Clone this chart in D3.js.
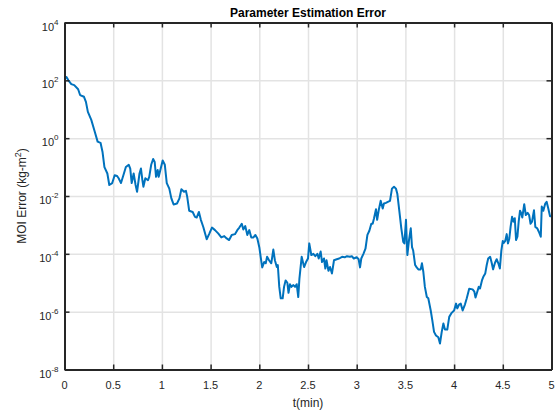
<!DOCTYPE html>
<html>
<head>
<meta charset="utf-8">
<script src="https://cdn.jsdelivr.net/npm/d3@7"></script>
<style>
  html, body { margin: 0; padding: 0; background: #fff; }
  svg { display: block; font-family: "Liberation Sans", Arial, Helvetica, sans-serif; }
</style>
</head>
<body>
<svg id="chart" width="559" height="415"></svg>
<script>
// Time samples (minutes)
const timeMin = [
  0.00, 0.02, 0.04, 0.07, 0.10, 0.14, 0.16, 0.20, 0.22, 0.24, 0.275, 0.31, 0.34, 0.37, 0.39,
  0.41, 0.44, 0.46, 0.49, 0.515, 0.54, 0.556, 0.58, 0.61, 0.63, 0.66, 0.675, 0.69, 0.71, 0.73,
  0.745, 0.77, 0.785, 0.80, 0.81, 0.83, 0.857, 0.87, 0.89, 0.91, 0.926, 0.94, 0.957, 0.967, 0.984,
  1.008, 1.03, 1.05, 1.076, 1.097, 1.12, 1.155, 1.18, 1.20, 1.227, 1.247,
  1.26, 1.28, 1.316, 1.34, 1.357, 1.38, 1.40, 1.425, 1.46, 1.487, 1.514, 1.545, 1.58, 1.61, 1.64,
  1.665, 1.69, 1.717, 1.75, 1.774, 1.795, 1.82, 1.836, 1.856, 1.877, 1.897, 1.918, 1.94, 1.96, 1.98,
  2.00, 2.014, 2.03, 2.05, 2.066, 2.08, 2.10, 2.123, 2.144, 2.16, 2.18, 2.19, 2.205, 2.22, 2.24,
  2.254, 2.27, 2.288, 2.30, 2.315, 2.33, 2.35, 2.367, 2.384, 2.40, 2.412, 2.435, 2.46, 2.48, 2.50,
  2.513, 2.534, 2.555, 2.575, 2.596, 2.61, 2.63, 2.644, 2.664, 2.678, 2.69, 2.71, 2.726, 2.746, 2.767,
  2.795, 2.82, 2.85, 2.877, 2.90, 2.93, 2.95, 2.97, 3.00, 3.02, 3.034, 3.047, 3.068, 3.09, 3.11,
  3.13, 3.15, 3.164, 3.178, 3.198, 3.21, 3.226, 3.246, 3.267, 3.28, 3.30, 3.32, 3.342, 3.362, 3.383,
  3.403, 3.417, 3.437, 3.458, 3.478, 3.49, 3.506, 3.52, 3.537, 3.555, 3.568, 3.58, 3.60, 3.616, 3.633,
  3.657, 3.67, 3.684, 3.70, 3.72, 3.735, 3.76, 3.776, 3.794, 3.814, 3.838, 3.855, 3.873, 3.89, 3.906,
  3.93, 3.95, 3.975, 4.00, 4.02, 4.033, 4.053, 4.068, 4.088, 4.112, 4.13, 4.155, 4.19, 4.208, 4.22,
  4.238, 4.253, 4.266, 4.286, 4.30, 4.32, 4.335, 4.35, 4.37, 4.387, 4.40, 4.42, 4.437, 4.454, 4.47,
  4.485, 4.50, 4.51, 4.525, 4.54, 4.553, 4.567, 4.58, 4.595, 4.61, 4.623, 4.636, 4.65, 4.663, 4.677,
  4.69, 4.70, 4.72, 4.736, 4.755, 4.77, 4.785, 4.80, 4.82, 4.834, 4.854, 4.87, 4.89, 4.90, 4.916,
  4.936, 4.95, 4.967, 4.985, 5.00
];

// Moment-of-inertia estimation error (kg·m²)
const moiError = [
  1.1e2, 1.3e2, 1.0e2, 7.4e1, 6.8e1, 4.9e1, 3.1e1, 2.7e1, 1.8e1, 8.1, 4.3, 1.7, 0.76, 0.69, 0.34,
  0.10, 0.060, 0.024, 0.028, 0.052, 0.049, 0.041, 0.028, 0.060, 0.10, 0.12, 0.089, 0.028, 0.060, 0.024,
  0.014, 0.060, 0.089, 0.035, 0.021, 0.041, 0.035, 0.046, 0.12, 0.19, 0.15, 0.046, 0.079, 0.046, 0.079,
  0.17, 0.12, 0.028, 0.018, 0.0083, 0.0051, 0.0055, 0.0083, 0.017, 0.014, 0.015,
  9.3e-3, 3.1e-3, 2.8e-3, 1.9e-3, 1.8e-3, 2.8e-3, 1.5e-3, 8.5e-4, 3.2e-4, 5.0e-4, 8.1e-4, 6.6e-4, 5.0e-4, 3.7e-4, 4.1e-4,
  3.4e-4, 3.0e-4, 4.5e-4, 4.8e-4, 6.6e-4, 8.1e-4, 1.1e-3, 6.9e-4, 9.1e-4, 4.5e-4, 6.6e-4, 3.7e-4, 3.7e-4, 4.5e-4, 3.4e-4,
  1.7e-4, 7.9e-5, 3.4e-5, 5.2e-5, 4.7e-5, 7.9e-5, 6.0e-5, 4.7e-5, 1.4e-4, 6.0e-5, 3.5e-5, 4.1e-5, 7.2e-6, 2.9e-6, 2.9e-6,
  7.2e-6, 1.2e-5, 1.0e-5, 4.5e-6, 8.9e-6, 7.2e-6, 8.3e-6, 7.2e-6, 8.9e-6, 3.2e-6, 1.4e-5, 7.9e-5, 3.5e-5, 5.2e-5, 6.9e-5,
  2.3e-4, 9.1e-5, 1.0e-4, 8.3e-5, 1.0e-4, 6.9e-5, 1.2e-4, 5.2e-5, 6.9e-5, 3.1e-5, 6.0e-5, 2.6e-5, 3.5e-5, 2.1e-5, 6.0e-5,
  6.5e-5, 6.9e-5, 7.9e-5, 7.6e-5, 8.3e-5, 7.9e-5, 8.3e-5, 6.9e-5, 7.6e-5, 6.5e-5, 3.4e-5, 6.9e-5, 9.8e-5, 1.5e-4, 4.5e-4,
  6.3e-4, 1.1e-3, 1.1e-3, 1.7e-3, 3.5e-3, 1.5e-3, 3.2e-3, 6.8e-3, 3.7e-3, 5.5e-3, 5.8e-3, 6.3e-3, 6.8e-3, 1.8e-2, 2.1e-2,
  1.8e-2, 1.2e-2, 3.2e-3, 7.6e-4, 2.6e-4, 2.3e-4, 1.5e-3, 9.1e-5, 3.0e-4, 7.6e-4, 1.7e-4, 1.3e-4, 4.1e-5, 3.4e-5, 2.9e-5,
  2.9e-5, 4.7e-5, 2.4e-5, 7.2e-6, 3.2e-6, 2.9e-6, 1.1e-6, 5.1e-7, 2.0e-7, 1.5e-7, 1.3e-7, 7.9e-8, 2.0e-7, 3.9e-7, 2.4e-7,
  2.4e-7, 6.6e-7, 9.1e-7, 1.1e-6, 1.9e-6, 1.3e-6, 1.8e-6, 1.9e-6, 1.1e-6, 1.8e-6, 2.9e-6, 6.2e-6, 5.9e-6, 4.9e-6, 3.1e-6,
  4.9e-6, 7.2e-6, 6.3e-6, 1.2e-5, 1.6e-5, 2.1e-5, 4.1e-5, 6.9e-5, 7.9e-5, 4.7e-5, 2.9e-5, 4.9e-5, 6.5e-5, 4.7e-5, 3.1e-5,
  1.3e-4, 2.8e-4, 2.4e-4, 2.8e-4, 4.8e-4, 2.3e-4, 3.4e-4, 8.5e-4, 1.9e-3, 1.3e-3, 1.7e-3, 3.0e-4, 3.9e-4, 1.3e-3, 3.1e-3,
  2.5e-3, 1.8e-3, 5.2e-3, 2.2e-3, 2.6e-3, 2.2e-3, 1.1e-3, 1.3e-3, 3.2e-3, 8.5e-4, 7.6e-4, 5.8e-4, 3.9e-4, 4.3e-3, 3.1e-3,
  5.5e-3, 6.3e-3, 3.7e-3, 2.0e-3, 2.0e-3
];

// Axis ticks
const xTicks = [0, 0.5, 1, 1.5, 2, 2.5, 3, 3.5, 4, 4.5, 5];
const xTickLabels = ["0", "0.5", "1", "1.5", "2", "2.5", "3", "3.5", "4", "4.5", "5"];
const yTicks = [1e-8, 1e-6, 1e-4, 1e-2, 1e0, 1e2, 1e4];
const yTickExponents = ["-8", "-6", "-4", "-2", "0", "2", "4"];

const plotLeft = 64.5, plotRight = 551.5, plotTop = 22.5, plotBottom = 369.5;
const axisColor = "#262626";

const svg = d3.select("#chart");

const x = d3.scaleLinear().domain([0, 5]).range([plotLeft, plotRight]);
const y = d3.scaleLog().domain([1e-8, 1e4]).range([plotBottom, plotTop]);

// Grid lines
const grid = svg.append("g");
grid.append("g")
  .attr("transform", `translate(0,${plotBottom})`)
  .call(d3.axisBottom(x).tickValues(xTicks).tickSize(-(plotBottom - plotTop)).tickFormat(""))
  .call(g => g.select(".domain").remove())
  .call(g => g.selectAll("line").attr("stroke", "#e3e3e3").attr("stroke-width", 1.5));
grid.append("g")
  .attr("transform", `translate(${plotLeft},0)`)
  .call(d3.axisLeft(y).tickValues(yTicks).tickSize(-(plotRight - plotLeft)).tickFormat(""))
  .call(g => g.select(".domain").remove())
  .call(g => g.selectAll("line").attr("stroke", "#e3e3e3").attr("stroke-width", 1.5));

// Data line
svg.append("defs").append("clipPath").attr("id", "plotClip")
  .append("rect").attr("x", plotLeft).attr("y", plotTop)
  .attr("width", plotRight - plotLeft).attr("height", plotBottom - plotTop);

const series = timeMin.map((t, i) => ({ t, v: moiError[i] }));
const line = d3.line().x(d => x(d.t)).y(d => y(d.v));
svg.append("path")
  .datum(series)
  .attr("clip-path", "url(#plotClip)")
  .attr("fill", "none")
  .attr("stroke", "#0072bd")
  .attr("stroke-width", 2)
  .attr("stroke-linejoin", "round")
  .attr("d", line);

// Box axes with inward ticks
function styleAxis(g) {
  g.select(".domain").attr("stroke", axisColor).attr("stroke-width", 2);
  g.selectAll(".tick line").attr("stroke", axisColor).attr("stroke-width", 1.5);
}
svg.append("g").attr("transform", `translate(0,${plotBottom})`)
  .call(d3.axisBottom(x).tickValues(xTicks).tickSizeInner(-5).tickSizeOuter(0).tickFormat(""))
  .call(styleAxis);
svg.append("g").attr("transform", `translate(0,${plotTop})`)
  .call(d3.axisTop(x).tickValues(xTicks).tickSizeInner(-5).tickSizeOuter(0).tickFormat(""))
  .call(styleAxis);
svg.append("g").attr("transform", `translate(${plotLeft},0)`)
  .call(d3.axisLeft(y).tickValues(yTicks).tickSizeInner(-5).tickSizeOuter(0).tickFormat(""))
  .call(styleAxis);
svg.append("g").attr("transform", `translate(${plotRight},0)`)
  .call(d3.axisRight(y).tickValues(yTicks).tickSizeInner(-5).tickSizeOuter(0).tickFormat(""))
  .call(styleAxis);

// X tick labels
svg.append("g").selectAll("text")
  .data(xTicks)
  .join("text")
  .attr("x", d => x(d))
  .attr("y", plotBottom + 19)
  .attr("text-anchor", "middle")
  .attr("font-size", 11)
  .attr("fill", axisColor)
  .text((d, i) => xTickLabels[i]);

// Y tick labels as powers of ten
const yLabels = svg.append("g").selectAll("text")
  .data(yTicks)
  .join("text")
  .attr("x", plotLeft - 6)
  .attr("y", d => y(d) + 8)
  .attr("text-anchor", "end")
  .attr("font-size", 11)
  .attr("fill", axisColor);
yLabels.append("tspan").text("10");
yLabels.append("tspan")
  .attr("dy", -6)
  .attr("font-size", 8)
  .text((d, i) => yTickExponents[i]);

// Title
svg.append("text")
  .attr("x", (plotLeft + plotRight) / 2)
  .attr("y", 17)
  .attr("text-anchor", "middle")
  .attr("font-size", 12)
  .attr("font-weight", "bold")
  .attr("fill", "#000")
  .text("Parameter Estimation Error");

// Axis titles
svg.append("text")
  .attr("x", (plotLeft + plotRight) / 2)
  .attr("y", 407)
  .attr("text-anchor", "middle")
  .attr("font-size", 12)
  .attr("fill", axisColor)
  .text("t(min)");

const yTitle = svg.append("text")
  .attr("transform", `translate(26,${(plotTop + plotBottom) / 2}) rotate(-90)`)
  .attr("text-anchor", "middle")
  .attr("font-size", 12)
  .attr("fill", axisColor);
yTitle.append("tspan").text("MOI Error (kg-m");
yTitle.append("tspan").attr("dy", -5).attr("font-size", 9).text("2");
yTitle.append("tspan").attr("dy", 5).text(")");
</script>
</body>
</html>
